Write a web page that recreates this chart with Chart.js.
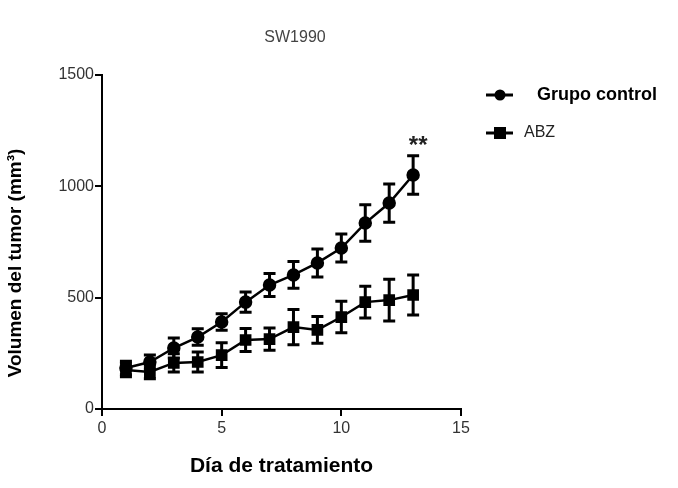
<!DOCTYPE html>
<html>
<head>
<meta charset="utf-8">
<script src="https://cdn.jsdelivr.net/npm/chart.js@4.4.1/dist/chart.umd.min.js"></script>
<style>
  html, body { margin: 0; padding: 0; background: #fff; }
  #wrap { width: 678px; height: 488px; }
</style>
</head>
<body>
<div id="wrap"><canvas id="c" width="678" height="488"></canvas></div>
<script>
// Treatment days
const days = [1, 2, 3, 4, 5, 6, 7, 8, 9, 10, 11, 12, 13];

// Mean tumour volume (mm³) and SEM per group
const controlMean = [184, 211, 274, 323, 391, 480, 557, 602, 656, 723, 835, 925, 1051];
const controlErr  = [30, 31, 45, 37, 37, 45, 52, 60, 63, 63, 82, 86, 86];
const abzMean     = [175, 166, 207, 211, 242, 310, 314, 368, 355, 413, 480, 489, 512];
const abzErr      = [30, 30, 41, 45, 56, 52, 50, 79, 60, 71, 71, 94, 90];

const seriesNames = ['Grupo control', 'ABZ'];
const xTicks = [0, 5, 10, 15];
const yTicks = [0, 500, 1000, 1500];
const chartTitle = 'SW1990';
const xTitle = 'Día de tratamiento';
const yTitle = 'Volumen del tumor (mm³)';
const significance = '**';

const SANS = '"Liberation Sans", Arial, sans-serif';

const errorBars = {
  id: 'errorBars',
  beforeDatasetsDraw(chart) {
    const ctx = chart.ctx;
    const y = chart.scales.y;
    chart.data.datasets.forEach((ds, i) => {
      const meta = chart.getDatasetMeta(i);
      ctx.save();
      ctx.strokeStyle = '#000';
      ctx.lineWidth = 3;
      meta.data.forEach((pt, j) => {
        const v = ds.data[j].y, e = ds.errors[j];
        const top = y.getPixelForValue(v + e);
        const bot = y.getPixelForValue(v - e);
        const cap = 6;
        ctx.beginPath();
        ctx.moveTo(pt.x, top); ctx.lineTo(pt.x, bot);
        ctx.moveTo(pt.x - cap, top); ctx.lineTo(pt.x + cap, top);
        ctx.moveTo(pt.x - cap, bot); ctx.lineTo(pt.x + cap, bot);
        ctx.stroke();
      });
      ctx.restore();
    });
  }
};

const annotations = {
  id: 'annotations',
  afterDraw(chart) {
    const ctx = chart.ctx;
    const xs = chart.scales.x, ys = chart.scales.y;
    ctx.save();
    // chart title
    ctx.fillStyle = '#444';
    ctx.font = '16px ' + SANS;
    ctx.textAlign = 'center';
    ctx.textBaseline = 'middle';
    ctx.fillText(chartTitle, 295, 38);

    // y axis title
    ctx.save();
    ctx.translate(16, 263);
    ctx.rotate(-Math.PI / 2);
    ctx.fillStyle = '#000';
    ctx.font = 'bold 19px ' + SANS;
    ctx.fillText(yTitle, 0, 0);
    ctx.restore();

    // significance marker above the last control point
    const last = days.length - 1;
    ctx.fillStyle = '#222';
    ctx.font = 'bold 24px ' + SANS;
    ctx.fillText(significance, xs.getPixelForValue(days[last]) + 5,
                 ys.getPixelForValue(controlMean[last] + controlErr[last]) - 9);

    // legend
    const items = [
      { y: 95, style: 'circle', font: 'bold 18px ' + SANS, color: '#000', tx: 537 },
      { y: 133, style: 'rect', font: '16px ' + SANS, color: '#222', tx: 524 }
    ];
    items.forEach((it, k) => {
      ctx.strokeStyle = '#000';
      ctx.fillStyle = '#000';
      ctx.lineWidth = 3;
      ctx.beginPath();
      ctx.moveTo(486, it.y); ctx.lineTo(513, it.y);
      ctx.stroke();
      if (it.style === 'circle') {
        ctx.beginPath(); ctx.arc(500, it.y, 5.5, 0, Math.PI * 2); ctx.fill();
      } else {
        ctx.fillRect(494, it.y - 6, 12, 12);
      }
      ctx.fillStyle = it.color;
      ctx.font = it.font;
      ctx.textAlign = 'left';
      ctx.fillText(seriesNames[k], it.tx, it.y);
    });
    ctx.restore();
  }
};

new Chart(document.getElementById('c'), {
  type: 'line',
  data: {
    datasets: [
      {
        label: seriesNames[0],
        data: days.map((d, i) => ({ x: d, y: controlMean[i] })),
        errors: controlErr,
        borderColor: '#000',
        backgroundColor: '#000',
        borderWidth: 2.5,
        pointStyle: 'circle',
        pointRadius: 5.5,
        pointHoverRadius: 5.5,
        tension: 0
      },
      {
        label: seriesNames[1],
        data: days.map((d, i) => ({ x: d, y: abzMean[i] })),
        errors: abzErr,
        borderColor: '#000',
        backgroundColor: '#000',
        borderWidth: 2.5,
        pointStyle: 'rect',
        pointRadius: 6.5,
        pointHoverRadius: 6.5,
        tension: 0
      }
    ]
  },
  options: {
    responsive: false,
    animation: false,
    events: [],
    layout: { padding: { left: 0, right: 217, top: 75, bottom: 0 } },
    plugins: { legend: { display: false }, title: { display: false }, tooltip: { enabled: false } },
    scales: {
      x: {
        type: 'linear',
        min: 0, max: 15,
        afterFit: s => { s.height = 79; },
        afterBuildTicks: s => { s.ticks = xTicks.map(v => ({ value: v })); },
        border: { display: true, color: '#000', width: 2 },
        grid: { drawOnChartArea: false, drawTicks: true, tickLength: 7, color: '#000', lineWidth: 2 },
        ticks: { color: '#333', font: { size: 16, family: SANS }, padding: 3, maxRotation: 0, callback: v => String(v) },
        title: { display: true, text: xTitle, color: '#000', font: { size: 21, weight: 'bold', family: SANS }, padding: { top: 0, bottom: 9 } }
      },
      y: {
        type: 'linear',
        min: 0, max: 1500,
        afterFit: s => { s.width = 102; },
        afterBuildTicks: s => { s.ticks = yTicks.map(v => ({ value: v })); },
        border: { display: true, color: '#000', width: 2 },
        grid: { drawOnChartArea: false, drawTicks: true, tickLength: 7, color: '#000', lineWidth: 2 },
        ticks: { color: '#333', font: { size: 16, family: SANS }, padding: 1, callback: v => String(v) },
        title: { display: false }
      }
    }
  },
  plugins: [errorBars, annotations]
});
</script>
</body>
</html>
